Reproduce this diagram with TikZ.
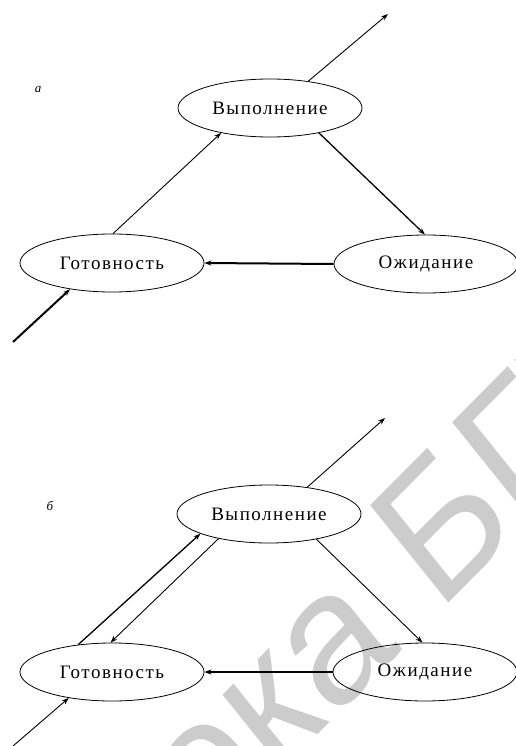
\documentclass[tikz,border=0pt]{standalone}
\usepackage{fontspec}
\setmainfont{Liberation Serif}
\newfontfamily\statefont[LetterSpace=8]{Liberation Serif}
\newfontfamily\wmfont{Liberation Sans}
\usetikzlibrary{shapes.geometric,arrows.meta}

\begin{document}
\begin{tikzpicture}[x=1pt,y=-1pt,
  state/.style={ellipse, draw, line width=0.8pt, inner sep=0pt,
    minimum width=184pt, minimum height=58pt,
    font=\statefont\fontsize{19}{19}\selectfont},
  arr/.style={-{Stealth[length=7pt,width=5pt]}},
  thin line/.style={line width=0.9pt},
  mid line/.style={line width=1.3pt},
  bold line/.style={line width=2pt},
  panel/.style={font=\itshape\fontsize{13}{13}\selectfont, inner sep=0pt},
  wm/.style={text=black!20, inner sep=0pt, font=\wmfont\fontsize{170}{170}\selectfont}]

\path[use as bounding box] (0,0) rectangle (515,746);

% library watermark in the background
\begin{scope}
  \clip (0,0) rectangle (515,746);
  \node[wm, anchor=base west, yscale=1.12, rotate=42] (wmark) at (438,614)
    {\llap{Библиотека }БГУИР};
\end{scope}

% ---- panel (a): three states ----
\node[panel] (la) at (38,90) {а};
\node[state] (run1)  at (270,108) {Выполнение};
\node[state] (ready1) at (112,263) {Готовность};
\node[state] (wait1) at (426,264) {Ожидание};
\coordinate (in1)  at (13,342);
\coordinate (out1) at (388,14);

\draw[arr, thin line] (run1.35) -- (out1);
\draw[arr, thin line] (ready1.88) -- (run1.207);
\draw[arr, mid line] (run1.-27.5) -- (wait1.92);
\draw[arr, bold line] (wait1.west) -- (ready1.east);
\draw[arr, bold line] (in1) -- (ready1.212);

% ---- panel (b): with preemption back to ready ----
\node[panel] (lb) at (50,506) {б};
\node[state] (run2)  at (269,514) {Выполнение};
\node[state] (ready2) at (112,672) {Готовность};
\node[state] (wait2) at (425,672) {Ожидание};
\coordinate (in2)  at (13,746);
\coordinate (out2) at (385,418);

\draw[arr, thin line] (run2.35) -- (out2);
\draw[arr, mid line] (ready2.141) -- (run2.196.5);
\draw[arr, thin line] (run2.206.6) -- (ready2.93);
\draw[arr, thin line] (run2.-28) -- (wait2.95);
\draw[arr, bold line] (wait2.west) -- (ready2.east);
\draw[arr, thin line] (in2) -- (ready2.211.6);
\end{tikzpicture}
\end{document}
